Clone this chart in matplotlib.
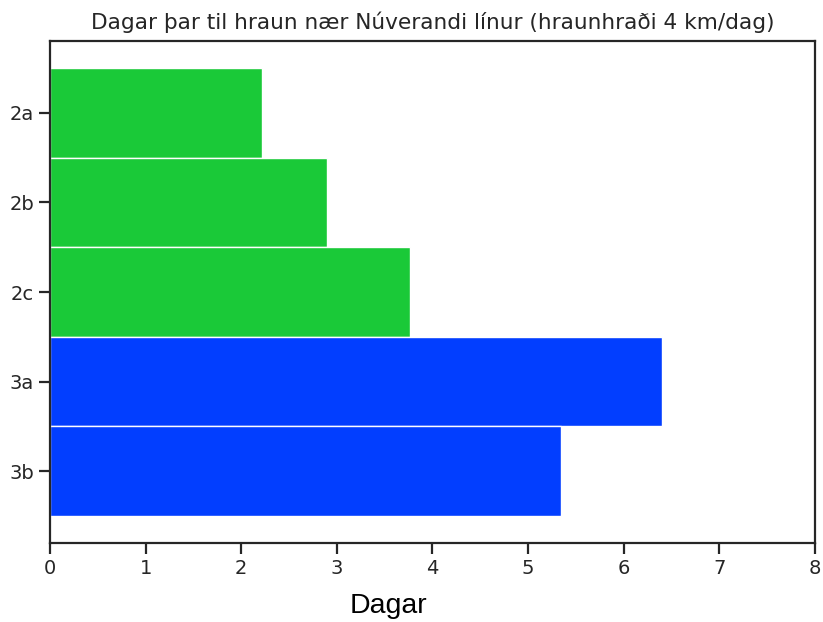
import matplotlib
matplotlib.use("Agg")
import matplotlib.pyplot as plt
import seaborn as sns

labels = ["2a", "2b", "2c", "3a", "3b"]
days = [2.22, 2.90, 3.77, 6.40, 5.35]
colors = ["#1ac938", "#1ac938", "#1ac938", "#023eff", "#023eff"]

sns.set_style("ticks")
plt.rcParams["font.family"] = ["DejaVu Sans"]

fig, ax = plt.subplots(figsize=(8.23, 6.22), dpi=100)
ax.barh(range(len(labels)), days, height=1.0, color=colors,
        edgecolor="white", linewidth=1)
ax.set_yticks(range(len(labels)))
ax.set_yticklabels(labels)
ax.set_ylim(4.8, -0.8)
ax.set_xlim(0, 8)
ax.tick_params(labelsize=14, length=8, width=1.6, colors="#262626")
for s in ax.spines.values():
    s.set_linewidth(1.6)
    s.set_color("#262626")
ax.set_xlabel("Dagar", fontsize=20.5, family="Liberation Sans", color="black")
ax.xaxis.set_label_coords(0.443, -0.1)
ax.set_title("Dagar þar til hraun nær Núverandi línur (hraunhraði 4 km/dag)",
             fontsize=15.6, color="#262626", pad=9)
fig.subplots_adjust(left=0.0608, right=0.990, top=0.934, bottom=0.127)
fig.savefig("out.png", dpi=100)
